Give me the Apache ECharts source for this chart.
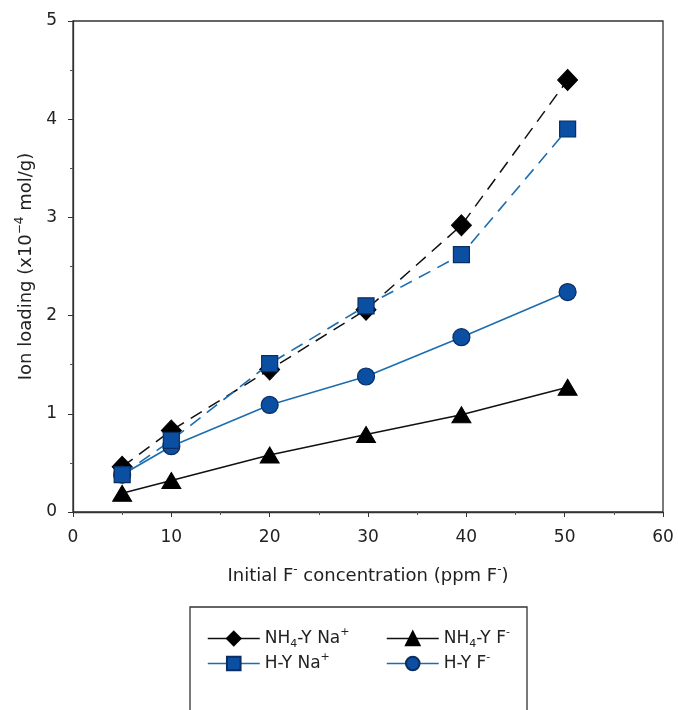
<!DOCTYPE html>
<html>
<head>
<meta charset="utf-8">
<script src="https://cdn.jsdelivr.net/npm/echarts@6/dist/echarts.min.js"></script>
<style>html,body{margin:0;padding:0;background:#fff;}#c{width:678px;height:710px;}</style>
</head>
<body>
<div id="c"></div>
<script>
var concentration = [5, 10, 20, 29.8, 39.5, 50.3];
var nh4yNa = [0.46, 0.83, 1.45, 2.06, 2.92, 4.40];
var nh4yF  = [0.19, 0.32, 0.58, 0.79, 0.99, 1.27];
var hyNa   = [0.38, 0.73, 1.51, 2.10, 2.62, 3.90];
var hyF    = [0.38, 0.67, 1.09, 1.38, 1.78, 2.24];
var xTicks = [0, 10, 20, 30, 40, 50, 60];
var yTicks = [0, 1, 2, 3, 4, 5];

function pairs(ys){ return concentration.map(function(x,i){ return [x, ys[i]]; }); }

var FONT = 'DejaVu Sans, Verdana, sans-serif';
var BLUE_LINE = '#1c6db0';
var BLUE_FILL = '#0b4fa3';
var BLUE_EDGE = '#0a2d62';

function makeRich(size){
  var small = Math.round(size * 0.66);
  var lh = Math.round(size * 1.35);
  return {
    b: {fontSize: size, fontFamily: FONT, color: '#222', lineHeight: lh, verticalAlign: 'middle'},
    sub: {fontSize: small, fontFamily: FONT, color: '#222', lineHeight: lh, verticalAlign: 'bottom'},
    sup: {fontSize: small, fontFamily: FONT, color: '#222', lineHeight: lh, verticalAlign: 'top'}
  };
}
var nameRich = makeRich(18);
var legendRich = makeRich(17);

var names = {
  'NH4-Y Na+': '{b|NH}{sub|4}{b|-Y Na}{sup|+}',
  'NH4-Y F-': '{b|NH}{sub|4}{b|-Y F}{sup|-}',
  'H-Y Na+': '{b|H-Y Na}{sup|+}',
  'H-Y F-': '{b|H-Y F}{sup|-}'
};

var chart = echarts.init(document.getElementById('c'), null, {renderer: 'canvas'});
var legendCommon = {
  orient: 'vertical', top: 622,
  itemWidth: 52, itemHeight: 17, itemGap: 2,
  formatter: function(n){ return names[n]; },
  textStyle: {rich: legendRich},
  lineStyle: {type: 'solid', width: 1.5}
};
var option = {
  animation: false,
  backgroundColor: '#fff',
  grid: {left: 73, right: 15, top: 21, bottom: 198, show: true, borderColor: '#333', borderWidth: 1.3, backgroundColor: 'transparent'},
  xAxis: {
    type: 'value', min: xTicks[0], max: xTicks[xTicks.length-1], interval: 10,
    axisLine: {show: true, onZero: false, lineStyle: {color: '#333', width: 1.3}},
    axisTick: {show: true, inside: false, length: 5, lineStyle: {color: '#333'}},
    minorTick: {show: true, splitNumber: 2, length: 3, lineStyle: {color: '#555'}},
    splitLine: {show: false},
    axisLabel: {fontSize: 17, fontFamily: FONT, color: '#222', margin: 17},
    name: '{b|Initial F}{sup|-}{b| concentration (ppm F}{sup|-}{b|)}',
    nameLocation: 'middle', nameGap: 52,
    nameTextStyle: {rich: nameRich}
  },
  yAxis: {
    type: 'value', min: yTicks[0], max: yTicks[yTicks.length-1], interval: 1,
    axisLine: {show: true, onZero: false, lineStyle: {color: '#333', width: 1.3}},
    axisTick: {show: true, inside: false, length: 5, lineStyle: {color: '#333'}},
    minorTick: {show: true, splitNumber: 2, length: 3, lineStyle: {color: '#555'}},
    splitLine: {show: false},
    axisLabel: {fontSize: 17, fontFamily: FONT, color: '#222', margin: 16},
    name: '{b|Ion loading (x10}{sup|−4}{b| mol/g)}',
    nameLocation: 'middle', nameGap: 33, nameRotate: 90,
    nameTextStyle: {rich: nameRich}
  },
  legend: [
    Object.assign({data: ['NH4-Y Na+', 'H-Y Na+'], left: 202}, legendCommon),
    Object.assign({data: ['NH4-Y F-', 'H-Y F-'], left: 381}, legendCommon)
  ],
  graphic: [
    {type: 'rect', shape: {x: 190, y: 607, width: 337, height: 110}, style: {fill: 'none', stroke: '#333', lineWidth: 1.3}, silent: true, z: -1}
  ],
  series: [
    {
      name: 'NH4-Y F-', type: 'line', data: pairs(nh4yF),
      symbol: 'triangle', symbolSize: [19, 16],
      lineStyle: {color: '#111', width: 1.5},
      itemStyle: {color: '#000', borderColor: '#000', borderWidth: 1}, z: 2
    },
    {
      name: 'NH4-Y Na+', type: 'line', data: pairs(nh4yNa),
      symbol: 'diamond', symbolSize: [20, 21],
      lineStyle: {color: '#111', width: 1.5, type: [13, 8]},
      itemStyle: {color: '#000', borderColor: '#000', borderWidth: 1}, z: 3
    },
    {
      name: 'H-Y F-', type: 'line', data: pairs(hyF),
      symbol: 'circle', symbolSize: 17,
      lineStyle: {color: BLUE_LINE, width: 1.6},
      itemStyle: {color: BLUE_FILL, borderColor: BLUE_EDGE, borderWidth: 1.2}, z: 4
    },
    {
      name: 'H-Y Na+', type: 'line', data: pairs(hyNa),
      symbol: 'rect', symbolSize: 16,
      lineStyle: {color: BLUE_LINE, width: 1.6, type: [13, 8]},
      itemStyle: {color: BLUE_FILL, borderColor: BLUE_EDGE, borderWidth: 1.2}, z: 5
    }
  ]
};
chart.setOption(option);
</script>
</body>
</html>
